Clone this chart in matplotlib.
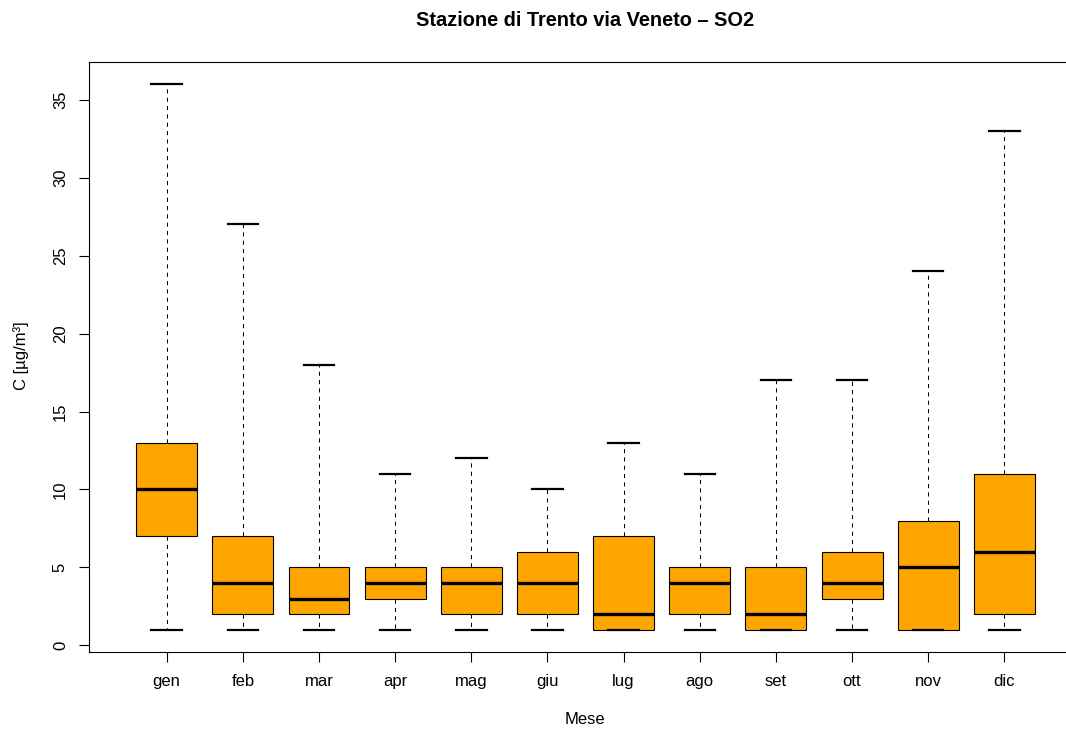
import matplotlib
matplotlib.use("Agg")
import matplotlib.pyplot as plt

plt.rcParams['font.family'] = ['Liberation Sans', 'DejaVu Sans']

# monthly SO2 box statistics (µg/m³)
months = ['gen', 'feb', 'mar', 'apr', 'mag', 'giu', 'lug', 'ago', 'set', 'ott', 'nov', 'dic']
whislo = [1, 1, 1, 1, 1, 1, 1, 1, 1, 1, 1, 1]
q1 = [7, 2, 2, 3, 2, 2, 1, 2, 1, 3, 1, 2]
med = [10, 4, 3, 4, 4, 4, 2, 4, 2, 4, 5, 6]
q3 = [13, 7, 5, 5, 5, 6, 7, 5, 5, 6, 8, 11]
whishi = [36, 27, 18, 11, 12, 10, 13, 11, 17, 17, 24, 33]
yticks = [0, 5, 10, 15, 20, 25, 30, 35]

stats = []
for i in range(len(months)):
    stats.append(dict(label=months[i], whislo=whislo[i], q1=q1[i], med=med[i],
                      q3=q3[i], whishi=whishi[i], fliers=[]))

fig = plt.figure(figsize=(10.66, 7.29), dpi=100)
ax = fig.add_axes([89 / 1066, 1 - 651.6 / 729, 990 / 1066, (651.6 - 62.3) / 729])

positions = list(range(1, len(months) + 1))
ax.bxp(stats, positions=positions, widths=0.8, capwidths=0.4, patch_artist=True,
       boxprops=dict(facecolor='#FFA500', edgecolor='black', linewidth=0.8),
       medianprops=dict(color='black', linewidth=2.4, solid_capstyle='butt'),
       whiskerprops=dict(color='black', linewidth=0.75, linestyle=(0, (4, 4))),
       capprops=dict(color='black', linewidth=1.6))

ax.set_xlim(-0.02, 12.98)
ax.set_ylim(-0.4, 37.4)
ax.set_xticks(positions)
ax.set_xticklabels(months)
ax.set_yticks(yticks)
ax.set_yticklabels([str(v) for v in yticks], rotation=90, va='center')
ax.tick_params(axis='both', direction='out', length=7.2, width=0.8, labelsize=12)
ax.tick_params(axis='x', pad=9)
ax.tick_params(axis='y', pad=8)
for s in ax.spines.values():
    s.set_linewidth(0.8)
# the plot frame runs past the right edge of the picture
ax.spines['right'].set_visible(False)

fig.text(585 / 1066, 1 - 20 / 729, 'Stazione di Trento via Veneto – SO2',
         ha='center', va='center', fontsize=14.4, fontweight='bold')
fig.text(585 / 1066, 1 - 719 / 729, 'Mese', ha='center', va='center', fontsize=12)
fig.text(21 / 1066, 1 - 356 / 729, 'C [µg/m³]', ha='center', va='center',
         rotation=90, fontsize=12)

fig.savefig('out.png', dpi=100)
